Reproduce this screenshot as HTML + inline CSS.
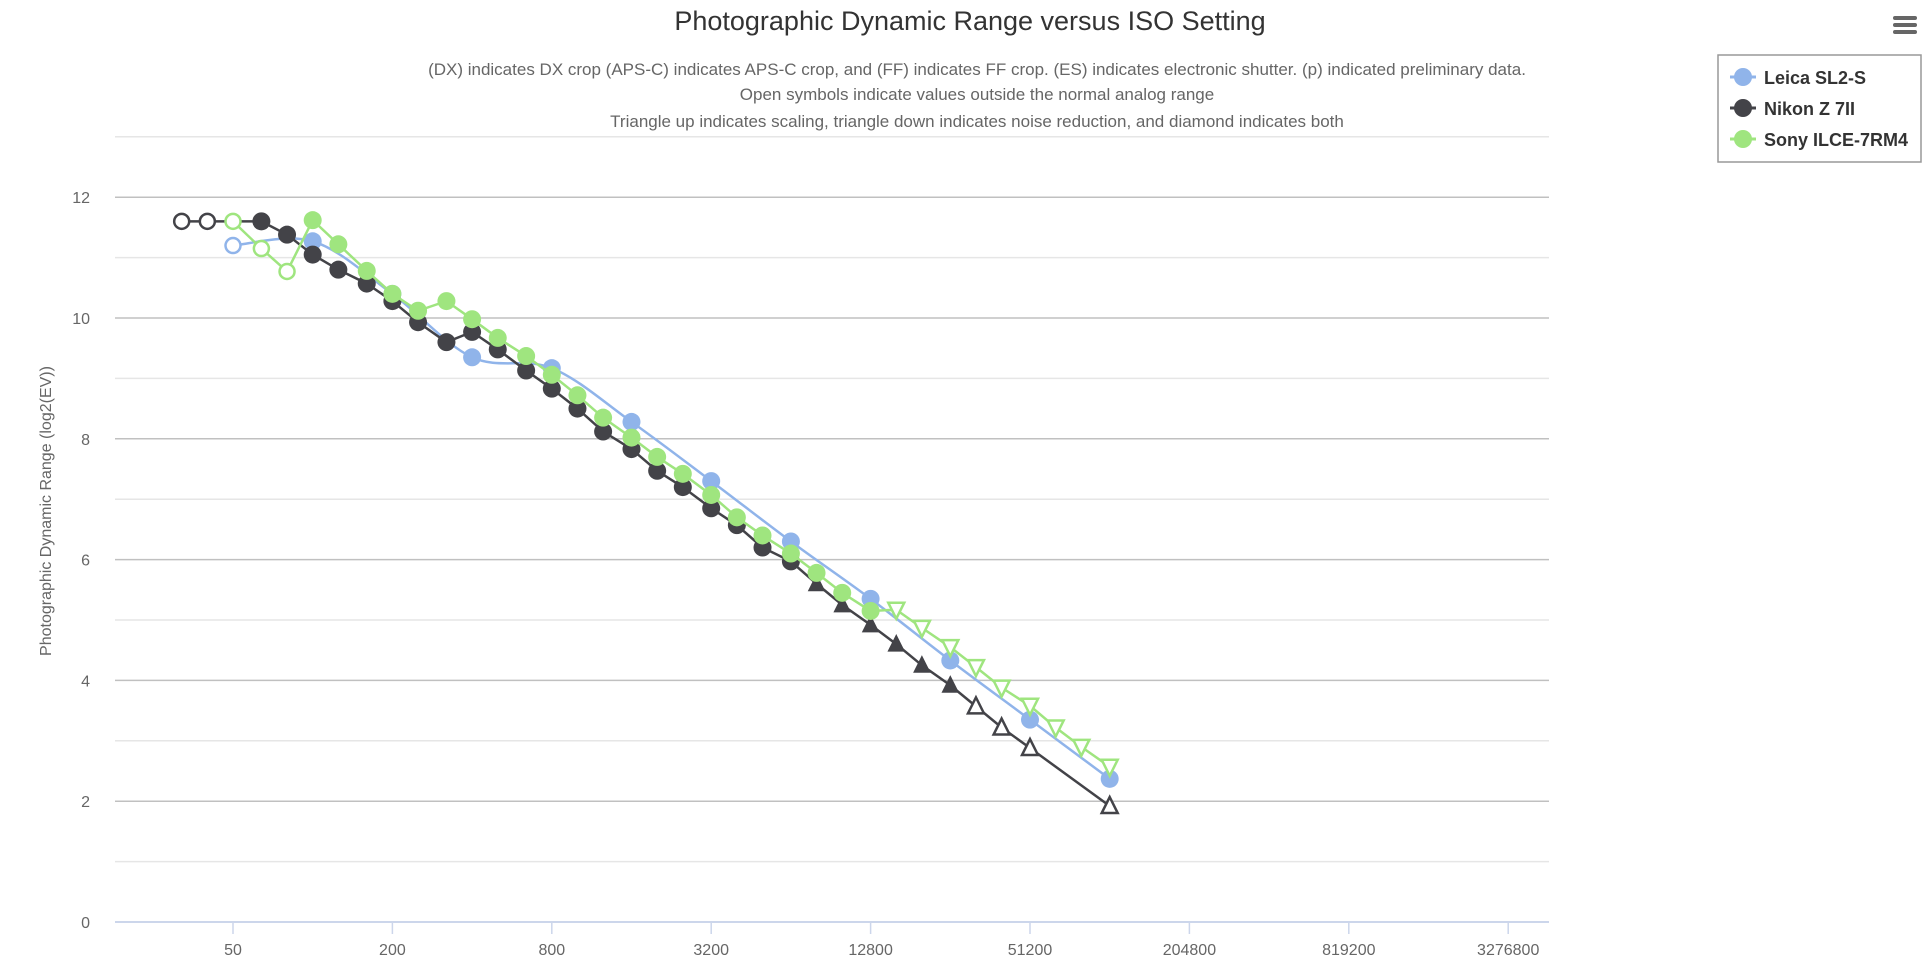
<!DOCTYPE html>
<html><head><meta charset="utf-8"><style>
html,body{margin:0;padding:0;background:#fff;width:1932px;height:974px;overflow:hidden}
svg text{font-family:"Liberation Sans","DejaVu Sans",sans-serif}
</style></head><body>
<svg id="s" width="1932" height="974" xmlns="http://www.w3.org/2000/svg"></svg>
<script>
const s=document.getElementById('s');
let h='';
const X=iso=>233+79.7*Math.log2(iso/50);
const Y=v=>922-60.4*v;
// grid
for(let v=0;v<=13;v++){const y=Y(v);h+=`<line x1="115" x2="1549" y1="${y}" y2="${y}" stroke="${v%2?'#e6e6e6':'#c0c0c0'}" stroke-width="${v%2?1.5:1.5}"/>`;}
h+=`<line x1="115" x2="1549" y1="922" y2="922" stroke="#ccd6eb" stroke-width="2"/>`;
[50,200,800,3200,12800,51200,204800,819200,3276800].forEach(t=>{const x=X(t);h+=`<line x1="${x}" x2="${x}" y1="922" y2="934" stroke="#ccd6eb" stroke-width="1.5"/><text x="${x}" y="955" text-anchor="middle" font-size="16" fill="#666">${t}</text>`;});
for(let v=0;v<=12;v+=2)h+=`<text x="90" y="${Y(v)+6}" text-anchor="end" font-size="16" fill="#666">${v}</text>`;
h+=`<text transform="translate(51,511) rotate(-90)" text-anchor="middle" font-size="16" fill="#666">Photographic Dynamic Range (log2(EV))</text>`;
h+=`<text x="970" y="30" text-anchor="middle" font-size="27" fill="#333">Photographic Dynamic Range versus ISO Setting</text>`;
h+=`<text x="977" y="75" text-anchor="middle" font-size="17" fill="#666">(DX) indicates DX crop (APS-C) indicates APS-C crop, and (FF) indicates FF crop. (ES) indicates electronic shutter. (p) indicated preliminary data.</text>`;
h+=`<text x="977" y="100" text-anchor="middle" font-size="17" fill="#666">Open symbols indicate values outside the normal analog range</text>`;
h+=`<text x="977" y="127" text-anchor="middle" font-size="17" fill="#666">Triangle up indicates scaling, triangle down indicates noise reduction, and diamond indicates both</text>`;
// menu
[18,25,32].forEach(y=>h+=`<rect x="1893" y="${y-2}" width="24" height="4" rx="2" fill="#666"/>`);
// legend
h+=`<rect x="1718" y="55" width="203" height="107" fill="#fff" stroke="#999" stroke-width="1.5"/>`;
[['Leica SL2-S','#90b4ea',77],['Nikon Z 7II','#434348',108],['Sony ILCE-7RM4','#9fe57f',139]].forEach(([n,c,y])=>{h+=`<line x1="1730" x2="1756" y1="${y}" y2="${y}" stroke="${c}" stroke-width="3"/><circle cx="1743" cy="${y}" r="9" fill="${c}"/><text x="1764" y="${y+7}" font-size="18" font-weight="bold" fill="#333">${n}</text>`;});
function mk(x,y,c,t,open){
 const f=open?'#fff':c;const sw=open?2.5:0;
 if(t=='c')return `<circle cx="${x}" cy="${y}" r="${open?7.5:9}" fill="${f}" stroke="${c}" stroke-width="${sw}"/>`;
 if(t=='u')return `<path d="M${x} ${y-9}L${x+8} ${y+7}L${x-8} ${y+7}Z" fill="${f}" stroke="${c}" stroke-width="${open?2.5:1}"/>`;
 return `<path d="M${x} ${y+9}L${x+8} ${y-7}L${x-8} ${y-7}Z" fill="${f}" stroke="${c}" stroke-width="${open?2.5:1}"/>`;
}
function series(d,c,smooth){
 const p=d.map(a=>[X(a[0]),Y(a[1])]);
 let path='M'+p[0].join(' ');
 if(smooth){for(let i=0;i<p.length-1;i++){const p0=p[i-1]||p[i],p1=p[i],p2=p[i+1],p3=p[i+2]||p2;
  const c1=[p1[0]+(p2[0]-p0[0])/6,p1[1]+(p2[1]-p0[1])/6],c2=[p2[0]-(p3[0]-p1[0])/6,p2[1]-(p3[1]-p1[1])/6];
  path+=`C${c1} ${c2} ${p2}`;}}
 else p.slice(1).forEach(q=>path+='L'+q.join(' '));
 let o=`<path d="${path}" fill="none" stroke="${c}" stroke-width="2.5"/>`;
 d.forEach((a,i)=>o+=mk(p[i][0],p[i][1],c,a[2]||'c',a[3]));
 return o;
}
const leica=[[50,11.2,'c',1],[100,11.27],[200,10.4],[400,9.35],[800,9.17],[1600,8.28],[3200,7.3],[6400,6.3],[12800,5.35],[25600,4.33],[51200,3.35],[102400,2.37]];
const nikon=[[32,11.6,'c',1],[40,11.6,'c',1],[64,11.6],[80,11.38],[100,11.05],[125,10.8],[160,10.57],[200,10.28],[250,9.93],[320,9.6],[400,9.77],[500,9.48],[640,9.13],[800,8.83],[1000,8.5],[1250,8.12],[1600,7.83],[2000,7.47],[2500,7.2],[3200,6.85],[4000,6.57],[5000,6.2],[6400,5.97],[8000,5.6,'u'],[10000,5.25,'u'],[12800,4.92,'u'],[16000,4.6,'u'],[20000,4.25,'u'],[25600,3.92,'u'],[32000,3.57,'u',1],[40000,3.22,'u',1],[51200,2.88,'u',1],[102400,1.92,'u',1]];
const sony=[[50,11.6,'c',1],[64,11.15,'c',1],[80,10.77,'c',1],[100,11.62],[125,11.22],[160,10.78],[200,10.4],[250,10.12],[320,10.28],[400,9.98],[500,9.67],[640,9.37],[800,9.06],[1000,8.72],[1250,8.35],[1600,8.02],[2000,7.7],[2500,7.42],[3200,7.07],[4000,6.7],[5000,6.4],[6400,6.1],[8000,5.78],[10000,5.45],[12800,5.15],[16000,5.17,'d',1],[20000,4.87,'d',1],[25600,4.55,'d',1],[32000,4.22,'d',1],[40000,3.88,'d',1],[51200,3.58,'d',1],[64000,3.22,'d',1],[80000,2.9,'d',1],[102400,2.57,'d',1]];
h+=series(leica,'#90b4ea',true);
h+=series(nikon,'#434348',false);
h+=series(sony,'#9fe57f',false);
s.innerHTML=h;
</script>
</body></html>
